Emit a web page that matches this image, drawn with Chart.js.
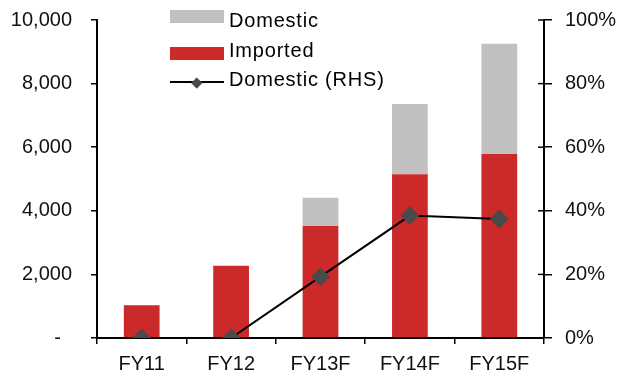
<!DOCTYPE html>
<html>
<head>
<meta charset="utf-8">
<script src="https://cdn.jsdelivr.net/npm/chart.js@4/dist/chart.umd.min.js"></script>
<style>
  html, body { margin: 0; padding: 0; background: #fff; }
  #wrap { position: relative; width: 621px; height: 378px; }
  #c { position: absolute; left: 0; top: 0; }
  .lg { position: absolute; font-family: "Liberation Sans", Arial, sans-serif; font-size: 20px; line-height: 20px; color: #000; letter-spacing: 0.8px; white-space: nowrap; }
  .box { position: absolute; width: 54px; height: 13px; }
</style>
</head>
<body>
<div id="wrap">
  <canvas id="c" width="621" height="378"></canvas>
  <div class="box" style="left:170px;top:10px;background:#C0C0C0;"></div>
  <div class="lg" style="left:229px;top:10px;">Domestic</div>
  <div class="box" style="left:170px;top:47px;background:#CC2A2A;"></div>
  <div class="lg" style="left:229px;top:40px;">Imported</div>
  <div style="position:absolute;left:170px;top:81px;width:54px;height:2px;background:#000;"></div>
  <div style="position:absolute;left:193px;top:78.5px;width:7.5px;height:7.5px;background:#4a4a4a;transform:rotate(45deg);"></div>
  <div class="lg" style="left:229px;top:69px;">Domestic (RHS)</div>
</div>
<script>
const categories = ["FY11", "FY12", "FY13F", "FY14F", "FY15F"];
const importedValues = [1030, 2270, 3520, 5150, 5790];
const domesticValues = [0, 0, 890, 2210, 3460];
const domesticSharePct = [0, 0, 19.3, 38.5, 37.4];
const leftTicks = [0, 2000, 4000, 6000, 8000, 10000];
const rightTicks = [0, 20, 40, 60, 80, 100];

const FONT = { family: "'Liberation Sans', Arial, sans-serif", size: 20 };

const innerTicks = {
  id: 'innerTicks',
  afterDraw(chart) {
    const s = chart.scales.y1;
    const ctx = chart.ctx;
    ctx.save();
    ctx.strokeStyle = '#000';
    ctx.lineWidth = 1.5;
    rightTicks.forEach(v => {
      const y = s.getPixelForValue(v);
      ctx.beginPath();
      ctx.moveTo(s.left - 6, y);
      ctx.lineTo(s.left, y);
      ctx.stroke();
    });
    ctx.restore();
  }
};

function zeroPad(s) { s.paddingTop = 0; s.paddingBottom = 0; s.paddingLeft = 0; s.paddingRight = 0; }

new Chart(document.getElementById('c'), {
  type: 'bar',
  data: {
    labels: categories,
    datasets: [
      {
        type: 'line',
        label: 'Domestic (RHS)',
        data: domesticSharePct,
        yAxisID: 'y1',
        borderColor: '#000',
        borderWidth: 2,
        pointStyle: 'rectRot',
        pointRadius: 9.5,
        pointBackgroundColor: '#4a4a4a',
        pointBorderColor: '#4a4a4a',
        pointBorderWidth: 0,
        tension: 0,
        order: 0,
        stack: 'line'
      },
      {
        label: 'Imported',
        data: importedValues,
        backgroundColor: '#CC2A2A',
        yAxisID: 'y',
        barPercentage: 0.40,
        categoryPercentage: 1,
        order: 1,
        stack: 's'
      },
      {
        label: 'Domestic',
        data: domesticValues,
        backgroundColor: '#C0C0C0',
        yAxisID: 'y',
        barPercentage: 0.40,
        categoryPercentage: 1,
        order: 1,
        stack: 's'
      }
    ]
  },
  options: {
    responsive: false,
    animation: false,
    layout: { padding: { top: 20, left: 0, right: 0, bottom: 0 } },
    plugins: { legend: { display: false }, tooltip: { enabled: false } },
    scales: {
      x: {
        stacked: true,
        afterFit(s) { s.height = 40; zeroPad(s); },
        border: { display: true, color: '#000', width: 2 },
        grid: { display: true, drawOnChartArea: false, drawTicks: true, tickLength: 6, color: '#000', lineWidth: 1.5, offset: true },
        ticks: { font: FONT, color: '#111', padding: 8, maxRotation: 0 }
      },
      y: {
        stacked: true,
        position: 'left',
        min: 0,
        max: 10000,
        afterFit(s) { s.width = 97; zeroPad(s); },
        afterBuildTicks(s) { s.ticks = leftTicks.map(v => ({ value: v })); },
        border: { display: true, color: '#000', width: 2 },
        grid: { display: true, drawOnChartArea: false, tickLength: 6, color: '#000', lineWidth: 1.5 },
        ticks: {
          font: FONT, color: '#111', padding: 19,
          callback: v => v === 0 ? '-  ' : v.toLocaleString('en-US')
        }
      },
      y1: {
        stacked: false,
        position: 'right',
        min: 0,
        max: 100,
        afterFit(s) { s.width = 77; zeroPad(s); },
        afterBuildTicks(s) { s.ticks = rightTicks.map(v => ({ value: v })); },
        border: { display: true, color: '#000', width: 2 },
        grid: { display: true, drawOnChartArea: false, tickLength: 8, color: '#000', lineWidth: 1.5 },
        ticks: { font: FONT, color: '#111', padding: 13, callback: v => v + '%' }
      }
    }
  },
  plugins: [innerTicks]
});
</script>
</body>
</html>
